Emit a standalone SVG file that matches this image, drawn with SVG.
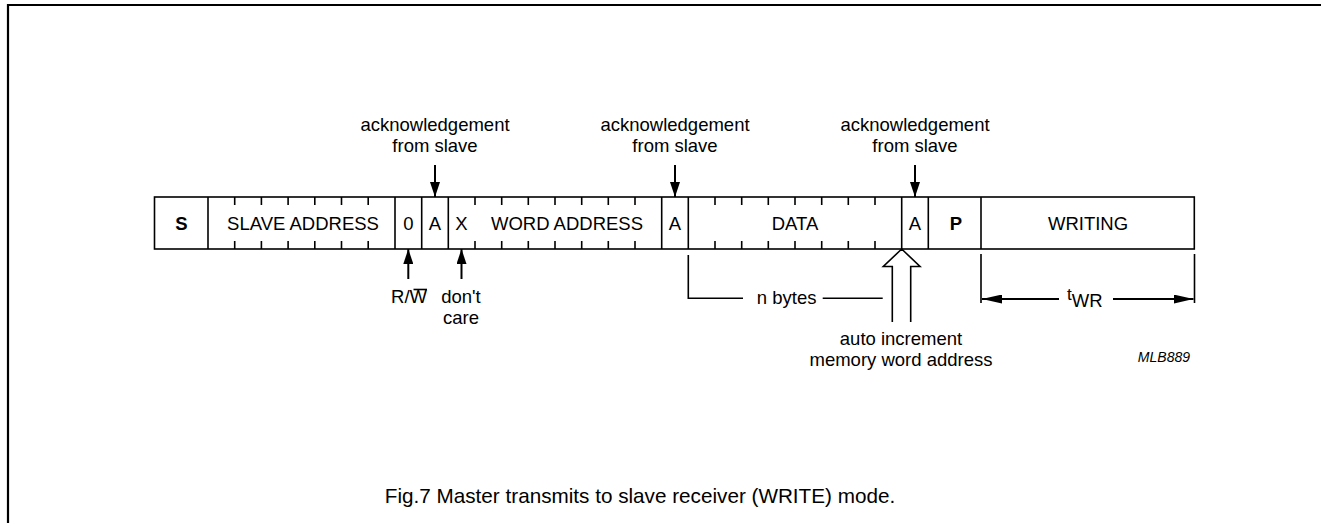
<svg xmlns="http://www.w3.org/2000/svg" width="1321" height="523" viewBox="0 0 1321 523">
<style>
text{font-family:"Liberation Sans",Arial,sans-serif;font-size:18.5px;fill:#000}
.c{text-anchor:middle}
.b{font-weight:bold}
.ln{stroke:#000;stroke-width:1.6;fill:none}
.ar{stroke:#000;stroke-width:2;fill:none}
.fr{stroke:#000;stroke-width:2.2;fill:none}
</style>
<defs>
<marker id="ah" viewBox="0 0 15 10" refX="15" refY="5" markerWidth="15" markerHeight="10" orient="auto" markerUnits="userSpaceOnUse"><path d="M0,0 L15,5 L0,10 z" fill="#000"/></marker>
<marker id="ah2" viewBox="0 0 20 9" refX="20" refY="4.5" markerWidth="20" markerHeight="9" orient="auto" markerUnits="userSpaceOnUse"><path d="M0,0 L20,4.5 L0,9 z" fill="#000"/></marker>
</defs>
<g id="frame">
<path class="fr" d="M8,523 V5 H1321"/>
</g>
<g id="frame-box">
<rect class="ln" x="154.5" y="197" width="1039.8" height="52"/>
</g>
<g id="cell-S"><line class="ln" x1="208" y1="197" x2="208" y2="249"/><text class="c b" x="181.5" y="230">S</text></g>
<g id="cell-slave-address">
<path class="ln" d="M234.7,197v8M261.4,197v8M288.1,197v8M314.8,197v8M341.5,197v8M368.2,197v8M234.7,249v-8M261.4,249v-8M288.1,249v-8M314.8,249v-8M341.5,249v-8M368.2,249v-8"/>
<line class="ln" x1="395" y1="197" x2="395" y2="249"/>
<text class="c" x="303" y="230">SLAVE ADDRESS</text>
</g>
<g id="cell-0"><line class="ln" x1="421.7" y1="197" x2="421.7" y2="249"/><text class="c" x="408.3" y="230">0</text></g>
<g id="cell-A1"><line class="ln" x1="448.3" y1="197" x2="448.3" y2="249"/><text class="c" x="435" y="230">A</text></g>
<g id="cell-word-address">
<path class="ln" d="M475,197v8M501.7,197v8M528.3,197v8M555,197v8M581.7,197v8M608.3,197v8M635,197v8M475,249v-8M501.7,249v-8M528.3,249v-8M555,249v-8M581.7,249v-8M608.3,249v-8M635,249v-8"/>
<line class="ln" x1="661.7" y1="197" x2="661.7" y2="249"/>
<text class="c" x="461.5" y="230">X</text>
<text class="c" x="567" y="230">WORD ADDRESS</text>
</g>
<g id="cell-A2"><line class="ln" x1="688.3" y1="197" x2="688.3" y2="249"/><text class="c" x="675" y="230">A</text></g>
<g id="cell-data">
<path class="ln" d="M715,197v8M741.7,197v8M768.3,197v8M795,197v8M821.7,197v8M848.3,197v8M875,197v8M715,249v-8M741.7,249v-8M768.3,249v-8M795,249v-8M821.7,249v-8M848.3,249v-8M875,249v-8"/>
<line class="ln" x1="901.7" y1="197" x2="901.7" y2="249"/>
<text class="c" x="795" y="230">DATA</text>
</g>
<g id="cell-A3"><line class="ln" x1="928.3" y1="197" x2="928.3" y2="249"/><text class="c" x="915" y="230">A</text></g>
<g id="cell-P"><line class="ln" x1="981" y1="197" x2="981" y2="249"/><text class="c b" x="956" y="230">P</text></g>
<g id="cell-writing"><text class="c" x="1088" y="230">WRITING</text></g>
<g id="labels">
<text class="c" x="435" y="131">acknowledgement</text>
<text class="c" x="435" y="152">from slave</text>
<text class="c" x="675" y="131">acknowledgement</text>
<text class="c" x="675" y="152">from slave</text>
<text class="c" x="915" y="131">acknowledgement</text>
<text class="c" x="915" y="152">from slave</text>
<text class="c" x="409" y="302.5">R/W</text>
<line x1="413.5" y1="289.5" x2="427" y2="289.5" stroke="#000" stroke-width="1.6"/>
<text class="c" x="461" y="302.5">don't</text>
<text class="c" x="461" y="323.5">care</text>
<text class="c" x="786.7" y="303.5">n bytes</text>
<text class="c" x="901" y="345">auto increment</text>
<text class="c" x="901" y="366">memory word address</text>
<text x="1067" y="300" style="font-size:17px">t<tspan dy="7" style="font-size:18.5px">WR</tspan></text>
<text x="1190" y="362" style="font-size:14px;font-style:italic;text-anchor:end">MLB889</text>
<text class="c" x="640" y="503" style="font-size:20.7px">Fig.7  Master transmits to slave receiver (WRITE) mode.</text>
</g>
<g id="connectors">
<line class="ar" x1="435" y1="165" x2="435" y2="197" marker-end="url(#ah)"/>
<line class="ar" x1="675" y1="165" x2="675" y2="197" marker-end="url(#ah)"/>
<line class="ar" x1="915" y1="165" x2="915" y2="197" marker-end="url(#ah)"/>
<line class="ar" x1="408.3" y1="279" x2="408.3" y2="249" marker-end="url(#ah)"/>
<line class="ar" x1="461.5" y1="279" x2="461.5" y2="249" marker-end="url(#ah)"/>
<path class="ln" d="M688.3,255 V298.3 H743 M822.7,298.3 H882.7"/>
<path class="ln" stroke-linejoin="miter" d="M892.3,322 V266.5 H883.3 L901.7,249 L920,266.5 H910.7 V322"/>
<path class="ln" d="M981,254 V303 M1194.5,254 V303"/>
<line class="ar" x1="1059" y1="299" x2="982" y2="299" marker-end="url(#ah2)"/>
<line class="ar" x1="1113" y1="299" x2="1193.5" y2="299" marker-end="url(#ah2)"/>
</g>
</svg>
